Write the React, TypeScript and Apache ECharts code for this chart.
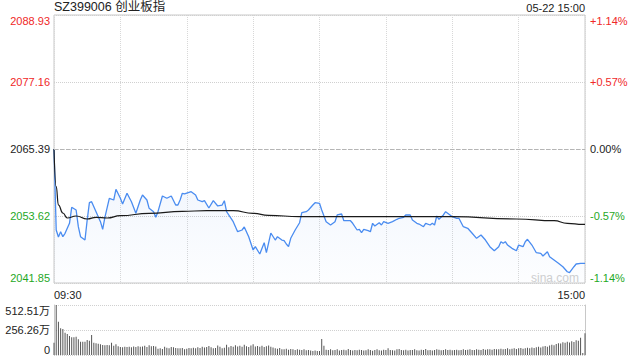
import { useEffect, useRef } from "react";
import * as echarts from "echarts";

const titleText = "SZ399006 创业板指";
const dateText = "05-22 15:00";
const watermarkText = "sina.com";
const prevClose = 2065.39;
const priceMin = 2041.85;
const priceMax = 2088.93;
const pctMin = -1.14;
const pctMax = 1.14;
const pctStep = 0.57;
const priceTickLabels = ["2041.85", "2053.62", "2065.39", "2077.16", "2088.93"];
const pctTickLabels = ["-1.14%", "-0.57%", "0.00%", "+0.57%", "+1.14%"];
const timeTickLabels = ["09:30", "15:00"];
const volTickLabels = ["0", "256.26万", "512.51万"];
const volMax = 512.51;
const totalMinutes = 240;

const priceMinutes = [
  0, 1, 2, 3, 4, 5, 7, 8, 10, 11, 12, 14, 15, 16, 17, 19, 21, 22, 23, 25,
  27, 28, 30, 31, 33, 35, 37, 39, 40, 42, 43, 45, 46, 47, 49, 51, 53, 55, 56, 57,
  58, 59, 62, 64, 65, 67, 68, 70, 72, 74, 76, 77, 78, 81, 83, 85, 86, 88, 90, 91,
  93, 95, 96, 98, 100, 101, 103, 104, 105, 106, 107, 109, 111, 112, 114, 115, 117, 118, 120, 121,
  123, 125, 127, 128, 130, 131, 134, 135, 137, 138, 139, 140, 142, 143, 144, 145, 147, 148, 149, 151,
  153, 155, 156, 158, 159, 161, 162, 164, 165, 167, 168, 170, 171, 172, 173, 174, 176, 177, 179, 180,
  182, 183, 185, 187, 189, 191, 193, 195, 197, 199, 201, 202, 203, 204, 205, 207, 209, 210, 212, 213,
  214, 216, 218, 220, 221, 223, 224, 226, 228, 230, 232, 233, 235, 236, 238, 239, 240,
];
const priceValues = [
  2065.39, 2051.16, 2049.93, 2050.86, 2049.98, 2050.58, 2052.34, 2055.15, 2054.67, 2051.74, 2049.98, 2049.40, 2052.92, 2055.96, 2056.13, 2054.38, 2052.62, 2051.28, 2053.39, 2056.73,
  2056.43, 2058.31, 2056.73, 2055.73, 2057.61, 2056.13, 2054.09, 2056.43, 2057.31, 2056.43, 2054.97, 2054.38, 2053.39, 2054.38, 2057.13, 2056.73, 2057.13, 2055.55, 2055.55, 2056.43,
  2057.61, 2057.49, 2057.89, 2057.31, 2056.43, 2056.13, 2056.31, 2055.03, 2056.31, 2055.38, 2055.55, 2056.31, 2054.38, 2052.62, 2050.86, 2051.16, 2051.69, 2049.98, 2047.65, 2048.23,
  2046.94, 2048.93, 2047.17, 2050.63, 2049.40, 2049.98, 2049.40, 2049.28, 2048.70, 2048.23, 2049.70, 2051.16, 2052.44, 2054.20, 2054.38, 2054.67, 2055.55, 2055.96, 2055.85, 2054.67,
  2052.62, 2052.04, 2052.62, 2053.80, 2053.97, 2052.79, 2052.79, 2052.34, 2051.16, 2051.28, 2050.69, 2051.28, 2051.04, 2050.86, 2052.34, 2051.86, 2052.44, 2052.04, 2052.62, 2052.34,
  2052.62, 2053.04, 2053.22, 2053.39, 2053.80, 2053.80, 2052.92, 2052.34, 2052.21, 2051.74, 2052.34, 2052.04, 2052.34, 2052.04, 2053.62, 2053.04, 2053.80, 2054.38, 2053.80, 2053.50,
  2053.22, 2053.22, 2051.74, 2051.46, 2050.58, 2049.70, 2050.28, 2049.40, 2048.23, 2047.52, 2048.23, 2049.10, 2048.82, 2049.10, 2048.52, 2047.94, 2047.52, 2048.52, 2048.23, 2049.10,
  2049.53, 2048.52, 2047.17, 2047.07, 2046.59, 2047.35, 2046.47, 2045.89, 2045.31, 2044.71, 2043.83, 2043.66, 2044.71, 2045.19, 2045.31, 2045.31, 2045.31,
];

const avgMinutes = [0, 1, 2, 4, 6, 10, 15, 19, 24, 30, 43, 58, 69, 81, 90, 97, 111, 120, 150, 180, 209, 226, 232, 239, 240];
const avgValues = [
  2065.39, 2058.77, 2055.55, 2054.15, 2053.27, 2053.62, 2053.09, 2053.39, 2053.27, 2053.67, 2054.09, 2054.45, 2054.55,
  2054.55, 2054.09, 2053.74, 2053.50, 2053.53, 2053.50, 2053.50, 2053.09, 2052.79, 2052.34, 2052.16, 2052.16,
];

// volume per minute, in 万
const volumes = [
  126, 512.51, 342, 274, 266, 228, 215, 195, 181, 181,
  188, 161, 136, 136, 136, 154, 146, 205, 126, 120,
  115, 110, 103, 100, 103, 100, 126, 95, 110, 90,
  82, 80, 85, 82, 85, 80, 88, 82, 90, 85,
  88, 95, 82, 100, 90, 92, 88, 65, 70, 62,
  85, 75, 68, 82, 80, 72, 70, 68, 72, 60,
  65, 72, 68, 75, 70, 80, 72, 85, 78, 82,
  92, 80, 68, 72, 98, 85, 70, 75, 105, 80,
  92, 85, 100, 88, 95, 85, 105, 90, 82, 98,
  110, 88, 92, 85, 95, 82, 90, 98, 85, 78,
  70, 65, 72, 60, 58, 65, 55, 62, 58, 52,
  60, 55, 50, 58, 48, 52, 45, 42, 45, 40, 42,
  164, 96, 55, 50, 58, 48, 52, 60, 45, 50, 55, 48, 62, 50, 45, 52, 48, 55, 50, 45,
  48, 58, 50, 44, 52, 60, 48, 45, 55, 50, 68, 52, 48, 45, 58, 62, 50, 48, 55, 45,
  50, 52, 58, 48, 45, 55, 50, 62, 48, 52, 45, 50, 58, 55, 48, 52, 60, 50, 55, 48,
  52, 55, 48, 50, 58, 52, 55, 60, 50, 52, 58, 55, 50, 62, 55, 58, 60, 55, 62, 58,
  60, 65, 58, 62, 68, 60, 65, 70, 62, 68, 72, 65, 70, 75, 68, 78, 72, 80, 85, 78,
  88, 92, 85, 98, 105, 100, 112, 120, 118, 130, 125, 135, 128, 140, 132, 150, 145, 178, 20, 222,
];

const FONT = "'Liberation Sans', Arial, 'Noto Sans CJK SC', sans-serif";
const RED = "#f02828";
const GREEN = "#1fa81f";
const BLACK = "#222";

function pctIndex(v: number) {
  return Math.round((v - pctMin) / pctStep);
}
function labelColor(v: number) {
  const i = pctIndex(v);
  return i < 2 ? GREEN : i > 2 ? RED : BLACK;
}

export default function App() {
  const ref = useRef<HTMLDivElement>(null);
  useEffect(() => {
    if (!ref.current) return;
    const chart = echarts.init(ref.current, null, { renderer: "svg" });
    const option: any = {
      animation: false,
      backgroundColor: "#fff",
      textStyle: { fontFamily: FONT },
      title: [
        { text: titleText, left: 54, top: 1, padding: 0, textStyle: { fontSize: 12.5, fontWeight: "normal", color: BLACK, fontFamily: FONT } },
        { text: dateText, right: 55, top: 2, padding: 0, textStyle: { fontSize: 11, fontWeight: "normal", color: BLACK, fontFamily: FONT } },
      ],
      graphic: [
        { type: "text", left: 531, top: 272, style: { text: watermarkText, fill: "#cfcfcf", font: "12px " + FONT } },
      ],
      grid: [
        { left: 54, right: 55, top: 15, height: 268, show: true, borderColor: "#c8c8c8", borderWidth: 1 },
        { left: 54, right: 55, top: 305, height: 50 },
      ],
      xAxis: [
        {
          type: "value", gridIndex: 0, min: 0, max: totalMinutes, interval: 30,
          axisLine: { show: false }, axisTick: { show: false },
          splitLine: { show: true, lineStyle: { color: "#d8d8d8", type: "dotted" } },
          axisLabel: {
            fontSize: 11, color: BLACK, margin: 6, fontFamily: FONT,
            showMinLabel: true, showMaxLabel: true,
            alignMinLabel: "left", alignMaxLabel: "right",
            formatter: (v: number) => (v === 0 ? timeTickLabels[0] : v === totalMinutes ? timeTickLabels[1] : ""),
          },
        },
        { type: "value", gridIndex: 1, min: 0, max: totalMinutes, show: false },
      ],
      yAxis: [
        { type: "value", gridIndex: 0, min: priceMin, max: priceMax, show: false, splitLine: { show: false } },
        {
          type: "value", gridIndex: 0, position: "right", min: pctMin, max: pctMax, interval: pctStep,
          axisLine: { show: false }, axisTick: { show: false },
          splitLine: { show: true, lineStyle: { color: "#d0d0d0", type: "dotted" } },
          axisLabel: {
            fontSize: 11, margin: 5, fontFamily: FONT,
            verticalAlignMinLabel: "bottom", verticalAlignMaxLabel: "top",
            formatter: (v: number) => pctTickLabels[pctIndex(v)],
            color: (v: any) => labelColor(Number(v)),
          },
        },
        {
          type: "value", gridIndex: 0, position: "left", min: pctMin, max: pctMax, interval: pctStep,
          axisLine: { show: false }, axisTick: { show: false }, splitLine: { show: false },
          axisLabel: {
            fontSize: 11, margin: 4, fontFamily: FONT,
            verticalAlignMinLabel: "bottom", verticalAlignMaxLabel: "top",
            formatter: (v: number) => priceTickLabels[pctIndex(v)],
            color: (v: any) => labelColor(Number(v)),
          },
        },
        {
          type: "value", gridIndex: 1, min: 0, max: volMax, interval: volMax / 2,
          axisLine: { show: true, lineStyle: { color: "#c8c8c8" } }, axisTick: { show: false },
          splitLine: { show: true, lineStyle: { color: "#d0d0d0", type: "dotted" } },
          axisLabel: {
            fontSize: 11, margin: 4, color: BLACK, fontFamily: FONT,
            verticalAlignMinLabel: "bottom", verticalAlignMaxLabel: "top",
            formatter: (v: number) => volTickLabels[Math.round(v / (volMax / 2))],
          },
        },
        {
          type: "value", gridIndex: 1, position: "right", min: 0, max: volMax,
          axisLine: { show: true, lineStyle: { color: "#c8c8c8" } }, axisTick: { show: false },
          axisLabel: { show: false }, splitLine: { show: false },
        },
      ],
      series: [
        {
          type: "line", xAxisIndex: 0, yAxisIndex: 0,
          data: priceMinutes.map((m, i) => [m, priceValues[i]]),
          showSymbol: false, symbol: "none",
          lineStyle: { color: "#4a8cf0", width: 1.3 },
          areaStyle: {
            origin: "start",
            color: new echarts.graphic.LinearGradient(0, 0, 0, 1, [
              { offset: 0, color: "rgba(90,145,235,0.14)" },
              { offset: 1, color: "rgba(90,145,235,0.02)" },
            ]),
          },
          markLine: {
            silent: true, symbol: "none", label: { show: false },
            lineStyle: { color: "#b5b5b5", type: "dashed", width: 1 },
            data: [{ yAxis: prevClose }],
          },
          z: 3,
        },
        {
          type: "line", xAxisIndex: 0, yAxisIndex: 0,
          data: avgMinutes.map((m, i) => [m, avgValues[i]]),
          showSymbol: false, symbol: "none", smooth: true, smoothMonotone: "x",
          lineStyle: { color: "#1a1a1a", width: 1.2 },
          z: 4,
        },
        {
          type: "bar", xAxisIndex: 1, yAxisIndex: 3,
          data: volumes.map((v, i) => [i, v]),
          barWidth: 1,
          itemStyle: { color: "#555" },
        },
      ],
    };
    chart.setOption(option);
    return () => chart.dispose();
  }, []);
  return <div ref={ref} style={{ position: "fixed", left: 0, top: 0, width: 640, height: 360 }} />;
}
